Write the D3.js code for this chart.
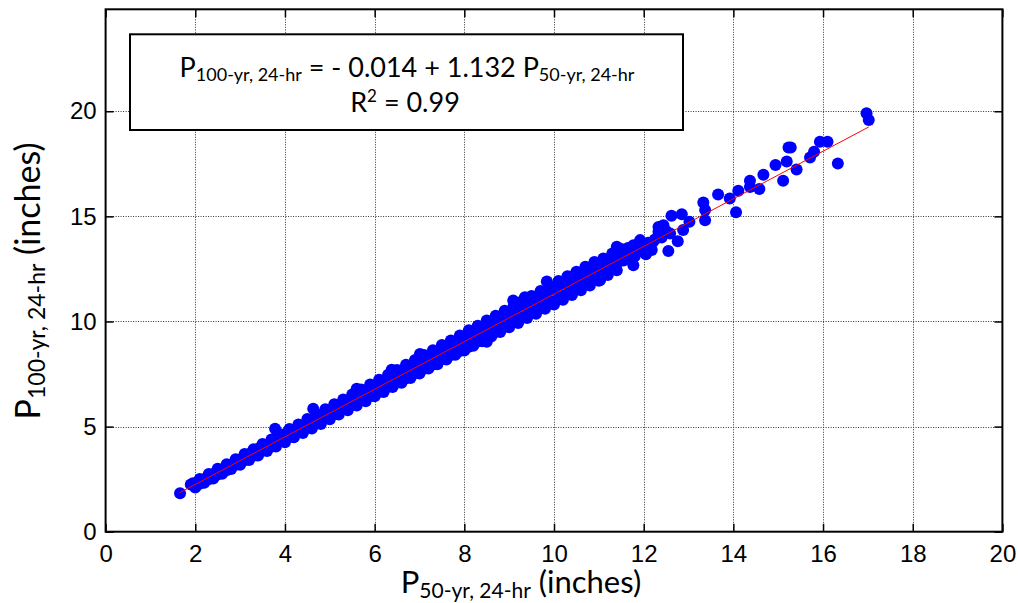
<!DOCTYPE html>
<html>
<head>
  <title>P100 vs P50</title>
  <script src="https://cdn.jsdelivr.net/npm/d3@7"></script>
  <style>
    body { margin: 0; background: #fff; }
    .tick text { font-family: "Liberation Sans", Arial, sans-serif; font-size: 24px; fill: #000; }
    .lbl { font-family: Lato, "Open Sans", sans-serif; fill: #000; }
  </style>
</head>
<body>
  <svg width="1018" height="603" id="mainsvg"></svg>
  <script>
    // tick values
    const xTicks = [0, 2, 4, 6, 8, 10, 12, 14, 16, 18, 20];
    const yTicks = [0, 5, 10, 15, 20];
    // regression shown in the box
    const fitA = -0.014, fitB = 1.132;
    // [P50, P100]
    const obs = [
      [1.66,1.83],[1.9,2.25],[1.95,2.3],[2.0,2.17],[2.05,2.35],[2.1,2.28],[2.15,2.45],[2.2,2.38],[2.25,2.55],[2.3,2.5],
      [2.35,2.62],[2.4,2.6],[2.45,2.8],[2.5,2.72],[2.55,2.95],[2.6,2.85],[2.65,3.0],[2.7,2.92],[2.75,3.15],[2.8,3.05],
      [2.85,3.25],[2.9,3.18],[2.95,3.4],[3.0,3.3],[3.05,3.5],[3.1,3.4],[3.15,3.62],[3.2,3.52],[3.25,3.75],[3.3,3.62],
      [3.35,3.85],[3.4,3.72],[3.45,4.0],[3.5,3.85],[3.55,4.05],[3.6,3.95],[3.65,4.2],[3.7,4.05],[3.75,4.4],[3.78,4.9],
      [3.8,4.18],[3.85,4.45],[3.9,4.3],[3.95,4.55],[4.0,4.4],[4.05,4.7],[4.1,4.5],[4.15,4.8],[4.2,4.6],[4.25,4.9],
      [4.3,4.72],[4.35,5.0],[4.4,4.82],[4.45,5.1],[4.5,4.95],[4.55,5.25],[4.6,5.05],[4.63,5.85],[4.65,5.35],[4.7,5.15],
      [4.75,5.45],[4.8,5.25],[4.85,5.6],[4.9,5.38],[4.95,5.7],[5.0,5.5],[5.05,5.8],[5.1,5.6],[5.15,5.9],[5.2,5.7],
      [5.25,6.05],[5.3,5.82],[5.35,6.15],[5.4,5.92],[5.45,6.25],[5.5,6.05],[5.55,6.4],[5.6,6.15],[5.6,6.8],[5.65,6.5],
      [5.7,6.25],[5.75,6.6],[5.8,6.35],[5.85,6.75],[5.9,6.45],[5.95,6.85],[6.0,6.55],[6.05,6.95],[6.1,6.65],[6.15,7.05],
      [6.2,6.75],[6.25,7.2],[6.3,6.9],[6.38,7.7],[6.35,7.3],[6.4,7.0],[6.45,7.45],[6.5,7.1],[6.55,7.55],[6.6,7.2],
      [6.65,7.7],[6.7,7.3],[6.75,7.8],[6.8,7.45],[6.85,7.9],[6.9,7.55],[6.95,8.05],[7.0,7.6],[7.01,8.45],[7.05,8.1],
      [7.1,7.75],[7.15,8.25],[7.2,7.85],[7.25,8.35],[7.3,7.95],[7.35,8.5],[7.4,8.1],[7.45,8.6],[7.5,8.2],[7.55,8.75],
      [7.6,8.3],[7.65,8.85],[7.7,8.4],[7.75,9.0],[7.8,8.5],[7.85,9.1],[7.9,8.6],[7.95,9.2],[8.0,8.7],[8.05,9.3],
      [8.1,8.8],[8.15,9.45],[8.2,8.95],[8.25,9.55],[8.3,9.05],[8.35,9.65],[8.4,9.15],[8.45,9.75],[8.5,9.03],[8.5,9.3],
      [8.55,9.85],[8.6,9.4],[8.65,10.0],[8.7,9.5],[8.75,10.05],[8.8,9.6],[8.85,10.2],[8.9,9.75],[8.95,10.3],[9.0,9.85],
      [9.05,10.5],[9.09,11.0],[9.1,10.0],[9.15,10.6],[9.2,10.1],[9.25,10.75],[9.35,11.15],[9.3,10.2],[9.35,10.8],[9.4,10.3],
      [9.45,10.9],[9.5,10.4],[9.55,11.0],[9.6,10.55],[9.65,11.1],[9.7,10.65],[9.75,11.25],[9.84,11.9],[9.8,10.75],[9.85,11.35],
      [9.91,10.87],[9.9,11.5],[9.95,10.95],[10.0,11.55],[10.05,11.0],[10.1,11.7],[10.15,11.15],[10.2,11.8],[10.25,11.25],[10.3,11.95],
      [10.36,12.13],[10.35,11.4],[10.4,12.0],[10.45,11.55],[10.5,12.1],[10.55,11.65],[10.6,12.2],[10.65,11.8],[10.7,12.35],[10.75,11.9],
      [10.8,12.45],[10.85,12.0],[10.9,12.55],[10.95,12.1],[11.03,11.97],[11.0,12.7],[11.1,12.3],[11.17,12.44],[11.2,12.9],[11.32,13.08],
      [11.3,12.6],[11.4,13.55],[11.45,12.85],[11.5,13.2],[11.6,13.05],[11.65,13.5],[11.77,12.68],[11.77,13.63],[11.85,13.3],[11.92,13.87],
      [12.0,13.5],[12.05,13.2],[12.18,13.4],[12.21,13.79],[12.33,14.27],[12.33,14.5],[12.44,14.58],[12.55,13.35],[12.59,14.19],[12.62,15.03],
      [12.76,13.82],[12.85,15.1],[12.88,14.35],[13.02,14.74],[13.33,15.66],[13.37,15.3],[13.37,14.82],[13.66,16.04],[13.92,15.85],[14.06,15.2],
      [14.11,16.22],[14.37,16.69],[14.37,16.4],[14.58,16.3],[14.67,16.98],[14.94,17.44],[15.11,16.69],[15.19,17.61],[15.23,18.28],[15.28,18.28],
      [15.41,17.23],[15.71,17.8],[15.8,18.07],[15.93,18.55],[16.1,18.55],[16.33,17.52],[16.97,19.9],[17.02,19.58],
      // lower edge of the band
      [2.0,2.1],[2.2,2.33],[2.4,2.53],[2.6,2.76],[2.8,2.98],[3.0,3.18],[3.2,3.41],[3.4,3.62],[3.6,3.84],[3.8,4.05],
      [4.0,4.26],[4.2,4.49],[4.4,4.69],[4.6,4.91],[4.8,5.12],[5.0,5.35],[5.2,5.57],[5.4,5.78],[5.6,6.0],[5.8,6.21],
      [6.0,6.44],[6.2,6.65],[6.4,6.88],[6.6,7.09],[6.8,7.31],[7.0,7.53],[7.2,7.76],[7.4,7.96],[7.6,8.19],[7.8,8.42],
      [8.0,8.62],[8.2,8.85],[8.4,9.06],[8.6,9.28],[8.8,9.5],[9.0,9.72],[9.2,9.93],[9.4,10.16],[9.6,10.37],[9.8,10.6],
      [10.0,10.81],[10.2,11.03],[10.4,11.26],[10.6,11.49],[10.8,11.71],[11.0,11.94],[11.2,12.21],[11.4,12.44],
      // upper edge of the band
      [2.1,2.51],[2.3,2.74],[2.5,2.99],[2.7,3.21],[2.9,3.45],[3.1,3.7],[3.3,3.92],[3.5,4.17],[3.7,4.39],[3.9,4.64],
      [4.1,4.88],[4.3,5.1],[4.5,5.36],[4.7,5.59],[4.9,5.83],[5.1,6.06],[5.3,6.29],[5.5,6.53],[5.7,6.76],[5.9,7.0],
      [6.1,7.23],[6.3,7.47],[6.5,7.69],[6.7,7.94],[6.9,8.17],[7.1,8.4],[7.3,8.63],[7.5,8.88],[7.7,9.1],[7.9,9.33],
      [8.1,9.58],[8.3,9.8],[8.5,10.05],[8.7,10.27],[8.9,10.51],[9.1,10.74],[9.3,10.98],[9.5,11.21],[9.7,11.45],[9.9,11.67],
      [10.1,11.92],[10.3,12.15],[10.5,12.37],[10.7,12.6],[10.9,12.83],[11.1,13.0],[11.3,13.23],[11.5,13.45],
      // cluster near 12
      [11.55,12.9],[11.7,13.3],[11.8,13.1],[11.95,13.6],[12.1,13.75],[12.25,13.9],[12.4,14.0],[12.5,14.3],[12.15,13.55],[11.9,13.4]
    ];

    const svg = d3.select('svg');
    const pLeft = 105.6, pRight = 1002.4, pTop = 9.3, pBottom = 531.7;
    const xScale = d3.scaleLinear().domain([0, 20]).range([pLeft, pRight]);
    const yScale = d3.scaleLinear().domain([0, 24.85]).range([pBottom, pTop]);

    // grid
    const grid = svg.append('g').attr('stroke', '#333').attr('stroke-width', 1)
      .attr('stroke-dasharray', '1,1.5');
    grid.selectAll('.gx').data(xTicks.slice(1, -1)).join('line')
      .attr('x1', d => Math.round(xScale(d)) + 0.5).attr('x2', d => Math.round(xScale(d)) + 0.5)
      .attr('y1', pTop).attr('y2', pBottom);
    grid.selectAll('.gy').data(yTicks.slice(1)).join('line')
      .attr('y1', d => Math.round(yScale(d)) + 0.5).attr('y2', d => Math.round(yScale(d)) + 0.5)
      .attr('x1', pLeft).attr('x2', pRight);

    // axes, ticks pointing inward
    svg.append('g').attr('transform', `translate(0, ${pBottom})`)
      .call(d3.axisBottom(xScale).tickValues(xTicks).tickSize(-8).tickSizeOuter(0).tickPadding(13));
    svg.append('g').attr('transform', `translate(${pLeft}, 0)`)
      .call(d3.axisLeft(yScale).tickValues(yTicks).tickSize(-8).tickSizeOuter(0).tickPadding(9));
    svg.append('g').attr('transform', `translate(0, ${pTop})`)
      .call(d3.axisTop(xScale).tickValues(xTicks).tickSize(-8).tickSizeOuter(0).tickFormat(''));
    svg.append('g').attr('transform', `translate(${pRight}, 0)`)
      .call(d3.axisRight(yScale).tickValues(yTicks).tickSize(-8).tickSizeOuter(0).tickFormat(''));
    svg.selectAll('.domain').remove();
    svg.selectAll('.tick line').attr('stroke', '#000').attr('stroke-width', 1.5);

    // frame
    svg.append('rect').attr('x', pLeft).attr('y', pTop)
      .attr('width', pRight - pLeft).attr('height', pBottom - pTop)
      .attr('fill', 'none').attr('stroke', '#000').attr('stroke-width', 2);

    // points
    svg.append('g').selectAll('circle').data(obs).join('circle')
      .attr('cx', d => xScale(d[0])).attr('cy', d => yScale(d[1]))
      .attr('r', 6).attr('fill', '#0000ff');

    // fit line
    const xr = d3.extent(obs, d => d[0]);
    svg.append('path').datum(xr)
      .attr('d', d3.line().x(d => xScale(d)).y(d => yScale(fitA + fitB * d)))
      .attr('stroke', '#ff0000').attr('stroke-width', 1).attr('fill', 'none');

    // equation box
    svg.append('rect').attr('x', 130).attr('y', 34.3).attr('width', 553).attr('height', 95.7)
      .attr('fill', '#fff').attr('stroke', '#000').attr('stroke-width', 2);
    const eq = svg.append('text').attr('class', 'lbl').attr('x', 407).attr('y', 76.7)
      .attr('text-anchor', 'middle').attr('font-size', 27);
    eq.append('tspan').text('P');
    eq.append('tspan').attr('font-size', 18).attr('dy', 4).text('100-yr, 24-hr');
    eq.append('tspan').attr('dy', -4).text(' = - 0.014 + 1.132 P');
    eq.append('tspan').attr('font-size', 18).attr('dy', 4).text('50-yr, 24-hr');
    const r2 = svg.append('text').attr('class', 'lbl').attr('x', 405).attr('y', 112.3)
      .attr('text-anchor', 'middle').attr('font-size', 27);
    r2.append('tspan').text('R');
    r2.append('tspan').attr('font-size', 17).attr('dy', -10).text('2');
    r2.append('tspan').attr('dy', 10).text(' = 0.99');

    // axis titles
    const xt = svg.append('text').attr('class', 'lbl').attr('x', 521).attr('y', 592.5)
      .attr('text-anchor', 'middle').attr('font-size', 31);
    xt.append('tspan').text('P');
    xt.append('tspan').attr('font-size', 21).attr('dy', 5).text('50-yr, 24-hr');
    xt.append('tspan').attr('dy', -5).text(' (inches)');
    const yt = svg.append('text').attr('class', 'lbl')
      .attr('transform', 'translate(40, 281) rotate(-90)')
      .attr('text-anchor', 'middle').attr('font-size', 34);
    yt.append('tspan').text('P');
    yt.append('tspan').attr('font-size', 23).attr('dy', 5).text('100-yr, 24-hr');
    yt.append('tspan').attr('dy', -5).text(' (inches)');
  </script>
</body>
</html>
